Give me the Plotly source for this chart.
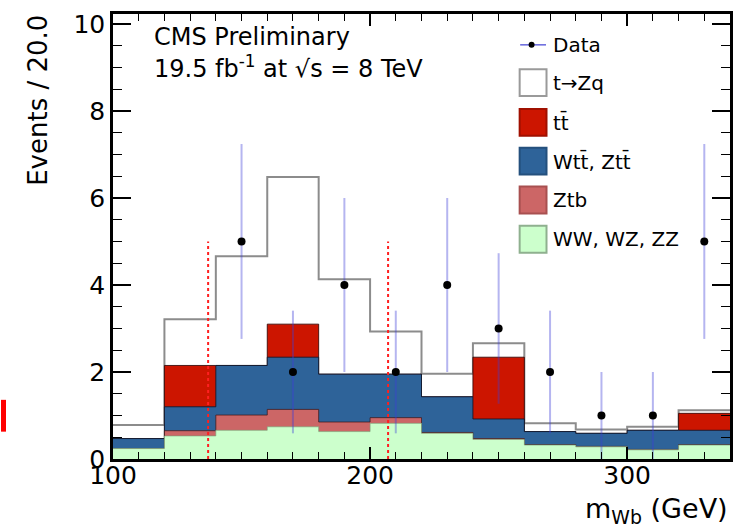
import numpy as np
import plotly.graph_objects as go

# ---------------- data ----------------
bin_edges = [100, 120, 140, 160, 180, 200, 220, 240, 260, 280, 300, 320, 340]
ww_wz_zz = [0.24, 0.53, 0.66, 0.74, 0.63, 0.82, 0.59, 0.45, 0.32, 0.28, 0.21, 0.32]
ztb      = [0.00, 0.12, 0.35, 0.40, 0.22, 0.13, 0.02, 0.02, 0.01, 0.01, 0.01, 0.01]
wtt_ztt  = [0.23, 0.55, 1.14, 1.20, 1.10, 1.00, 0.82, 0.45, 0.30, 0.30, 0.44, 0.33]
ttbar    = [0.00, 0.95, 0.00, 0.76, 0.00, 0.00, 0.00, 1.42, 0.00, 0.00, 0.00, 0.39]
tzq      = [0.31, 1.06, 2.51, 3.38, 2.18, 0.98, 0.53, 0.32, 0.19, 0.09, 0.08, 0.07]

data_x   = [150, 170, 190, 210, 230, 250, 270, 290, 310, 330]
data_y   = [5, 2, 4, 2, 4, 3, 2, 1, 1, 5]
data_err = [2.24, 1.41, 2.0, 1.41, 2.0, 1.73, 1.41, 1.0, 1.0, 2.24]

window_edges = [137, 207]
window_height = 5.0

x_ticks = [100, 200, 300]
y_ticks = [0, 2, 4, 6, 8, 10]

# ---------------- styling ----------------
C_RED = "#cc1500"
C_BLUE = "#2e6399"
C_PINK = "#cc6666"
C_GREEN = "#ccffcc"
FONT = "DejaVu Sans"

W, H = 743, 527
L, R, T, B = 112.6, 733.0, 12.0, 459.5


def px(p):
    return (p - L) / (R - L)


def py(p):
    return (B - p) / (B - T)


components = [ww_wz_zz, ztb, wtt_ztt, ttbar, tzq]
cum = np.cumsum(np.array(components), axis=0)

fig = go.Figure()

stack_styles = [
    # (cum index, fill, line colour, line width)
    (4, "white", "#8c8c8c", 2),
    (3, C_RED, "rgba(40,0,0,0.8)", 1),
    (2, C_BLUE, "rgba(10,20,40,0.8)", 1),
    (1, C_PINK, "rgba(60,20,20,0.7)", 1),
    (0, C_GREEN, "rgba(120,160,120,0.6)", 1),
]
for idx, fillc, linec, lw in stack_styles:
    yv = list(cum[idx]) + [cum[idx][-1]]
    fig.add_trace(go.Scatter(
        x=bin_edges, y=yv, mode="lines", line_shape="hv",
        fill="tozeroy", fillcolor=fillc,
        line=dict(color=linec, width=lw), showlegend=False, hoverinfo="skip"))

for xe in window_edges:
    fig.add_trace(go.Scatter(
        x=[xe, xe], y=[0, window_height], mode="lines",
        line=dict(color="#ff2020", width=2, dash="dot"),
        showlegend=False, hoverinfo="skip"))

fig.add_trace(go.Scatter(
    x=data_x, y=data_y, mode="markers",
    marker=dict(color="black", size=8),
    error_y=dict(type="data", array=data_err, color="rgba(60,60,215,0.38)",
                 thickness=2, width=0),
    showlegend=False))

axis_common = dict(showline=True, linecolor="black", linewidth=2.5, mirror="ticks",
                   ticks="inside", tickcolor="black", showgrid=False, zeroline=False,
                   tickfont=dict(family=FONT, size=25, color="black"))

fig.update_xaxes(range=[100, 340], tickvals=x_ticks, ticklen=12, tickwidth=1.5,
                 ticklabelstandoff=-8,
                 minor=dict(dtick=10, tick0=100, ticklen=7, tickwidth=1, ticks="inside",
                            tickcolor="black", showgrid=False),
                 **axis_common)
fig.update_yaxes(range=[0, (B - T) / ((B - 22) / 10)], tickvals=y_ticks, ticklen=18,
                 tickwidth=1.5,
                 minor=dict(dtick=0.5, tick0=0, ticklen=9, tickwidth=1, ticks="inside",
                            tickcolor="black", showgrid=False),
                 **axis_common)

ann = []
ann.append(dict(text="Events / 20.0", x=px(37), y=py(98.5), xref="paper", yref="paper",
                textangle=-90, showarrow=False, xanchor="center", yanchor="middle",
                font=dict(family=FONT, size=26, color="black")))
ann.append(dict(text="m<sub>Wb</sub> (GeV)", x=px(733), y=py(511), xref="paper", yref="paper",
                showarrow=False, xanchor="right", yanchor="middle",
                font=dict(family=FONT, size=27, color="black")))
ann.append(dict(text="CMS Preliminary", x=px(152), y=py(35), xref="paper", yref="paper",
                showarrow=False, xanchor="left", yanchor="middle",
                font=dict(family=FONT, size=24, color="black")))
ann.append(dict(text="19.5 fb<sup>-1</sup> at √s = 8 TeV", x=px(152), y=py(65),
                xref="paper", yref="paper", showarrow=False, xanchor="left",
                yanchor="middle", font=dict(family=FONT, size=24, color="black")))

legend_rows = [43, 81, 121, 160, 199, 238.5]
legend_labels = ["Data", "t→Zq", "tt̄", "Wtt̄, Ztt̄", "Ztb", "WW, WZ, ZZ"]
legend_fill = [None, "white", C_RED, C_BLUE, C_PINK, C_GREEN]
legend_edge = [None, "#9a9a9a", "#a01000", "#24507d", "#a85050", "#8fb08f"]

shapes = []
for yc, lab, fc, ec in zip(legend_rows, legend_labels, legend_fill, legend_edge):
    if fc is None:
        shapes.append(dict(type="line", xref="paper", yref="paper",
                           x0=px(522), x1=px(548), y0=py(yc), y1=py(yc),
                           line=dict(color="#6666dd", width=1.5)))
        shapes.append(dict(type="circle", xref="paper", yref="paper",
                           x0=px(530.5), x1=px(536.5), y0=py(yc - 3), y1=py(yc + 3),
                           fillcolor="black", line=dict(color="black", width=0)))
    else:
        shapes.append(dict(type="rect", xref="paper", yref="paper",
                           x0=px(521.5), x1=px(548.5), y0=py(yc + 13.5), y1=py(yc - 13.5),
                           fillcolor=fc, line=dict(color=ec, width=2)))
    ann.append(dict(text=lab, x=px(553), y=py(yc), xref="paper", yref="paper",
                    showarrow=False, xanchor="left", yanchor="middle",
                    font=dict(family=FONT, size=20, color="black")))

# stray red mark at left edge of the picture
shapes.append(dict(type="rect", xref="paper", yref="paper",
                   x0=px(0), x1=px(5), y0=py(432), y1=py(400),
                   fillcolor="#ff0000", line=dict(width=0)))

fig.update_layout(
    width=W, height=H,
    margin=dict(l=L, r=W - R, t=T, b=H - B),
    plot_bgcolor="white", paper_bgcolor="white",
    annotations=ann, shapes=shapes, showlegend=False,
)

fig.write_html("out.html")
